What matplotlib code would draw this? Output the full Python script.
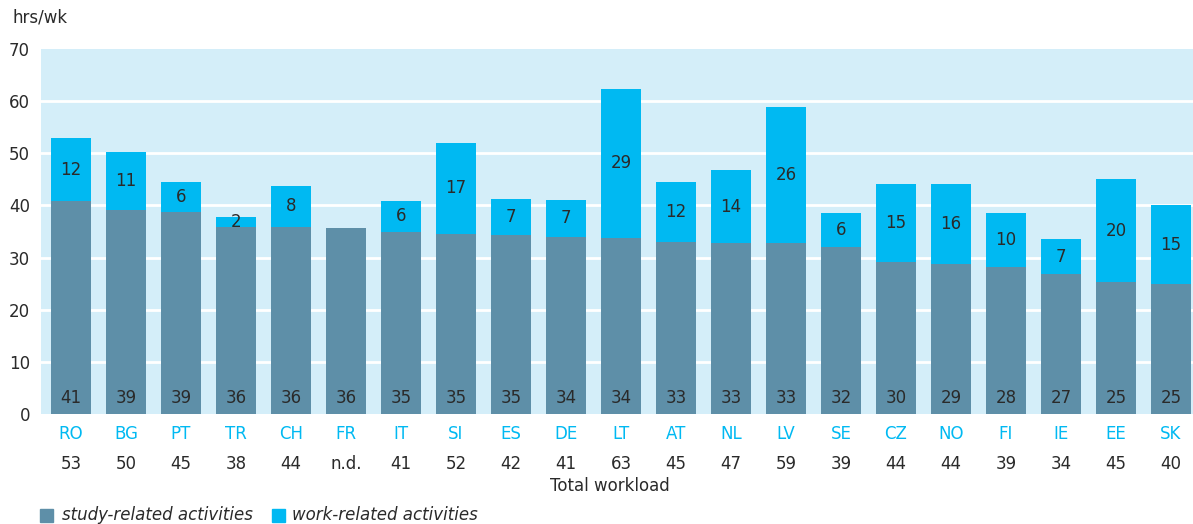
import numpy as np
import matplotlib.pyplot as plt

plt.rcParams['font.family'] = ['DejaVu Sans']

countries = ['RO', 'BG', 'PT', 'TR', 'CH', 'FR', 'IT', 'SI', 'ES', 'DE', 'LT',
             'AT', 'NL', 'LV', 'SE', 'CZ', 'NO', 'FI', 'IE', 'EE', 'SK']
study = [40.8, 39.2, 38.8, 35.8, 35.8, 35.6, 35.0, 34.6, 34.4, 34.0, 33.8,
         32.9, 32.7, 32.7, 32.1, 29.2, 28.7, 28.1, 26.8, 25.3, 25.0]
work = [12.1, 11.0, 5.6, 1.9, 8.0, 0, 5.8, 17.3, 6.9, 7.0, 28.5,
        11.5, 14.0, 26.1, 6.4, 15.0, 15.5, 10.4, 6.7, 19.7, 15.0]
study_lbl = ['41', '39', '39', '36', '36', '36', '35', '35', '35', '34', '34',
             '33', '33', '33', '32', '30', '29', '28', '27', '25', '25']
work_lbl = ['12', '11', '6', '2', '8', '', '6', '17', '7', '7', '29',
            '12', '14', '26', '6', '15', '16', '10', '7', '20', '15']
totals = ['53', '50', '45', '38', '44', 'n.d.', '41', '52', '42', '41', '63',
          '45', '47', '59', '39', '44', '44', '39', '34', '45', '40']

c_study = '#5E8FA8'
c_work = '#00B9F2'
txt = '#2A2A2A'

fig = plt.figure(figsize=(11.93, 5.24), dpi=100)
ax = fig.add_axes([41 / 1193, 1 - 414 / 524, 1 - 41 / 1193, 365 / 524])
ax.set_facecolor('#D4EEF9')

x = np.arange(len(countries))
w = 40 / 55
ax.bar(x, study, width=w, color=c_study, zorder=2)
ax.bar(x, work, width=w, bottom=study, color=c_work, zorder=2)

for i in range(len(x)):
    ax.text(x[i], 3, study_lbl[i], ha='center', va='center', fontsize=12, color=txt, zorder=3)
    if work_lbl[i]:
        ax.text(x[i], study[i] + work[i] / 2, work_lbl[i], ha='center', va='center',
                fontsize=12, color=txt, zorder=3)

ax.set_xlim(-30 / 55, 20 + 22 / 55)
ax.set_ylim(0, 70)
ax.set_yticks(range(0, 71, 10))
for g in range(10, 61, 10):
    ax.axhline(g, color='white', linewidth=2, zorder=1)
for s in ax.spines.values():
    s.set_visible(False)
ax.tick_params(axis='y', length=0, pad=8, labelsize=12, labelcolor=txt)
ax.set_xticks(x)
ax.set_xticklabels(countries)
ax.tick_params(axis='x', length=0, pad=8, labelsize=12, labelcolor=c_work)

for i in range(len(x)):
    ax.text(x[i], -9.5, totals[i], ha='center', va='center', fontsize=12, color=txt)
ax.text(9.8, -13.9, 'Total workload', ha='center', va='center', fontsize=12, color=txt)

fig.text(12 / 1193, 1 - 18 / 524, 'hrs/wk', ha='left', va='center', fontsize=12, color=txt)

# legend
fig.patches.append(plt.Rectangle((40 / 1193, 1 - 522 / 524), 13 / 1193, 13 / 524,
                                 transform=fig.transFigure, color=c_study))
fig.text(62 / 1193, 1 - 515 / 524, 'study-related activities', style='italic',
         ha='left', va='center', fontsize=12, color=txt)
fig.patches.append(plt.Rectangle((272 / 1193, 1 - 522 / 524), 13 / 1193, 13 / 524,
                                 transform=fig.transFigure, color=c_work))
fig.text(292 / 1193, 1 - 515 / 524, 'work-related activities', style='italic',
         ha='left', va='center', fontsize=12, color=txt)

fig.savefig('out.png', dpi=100)
